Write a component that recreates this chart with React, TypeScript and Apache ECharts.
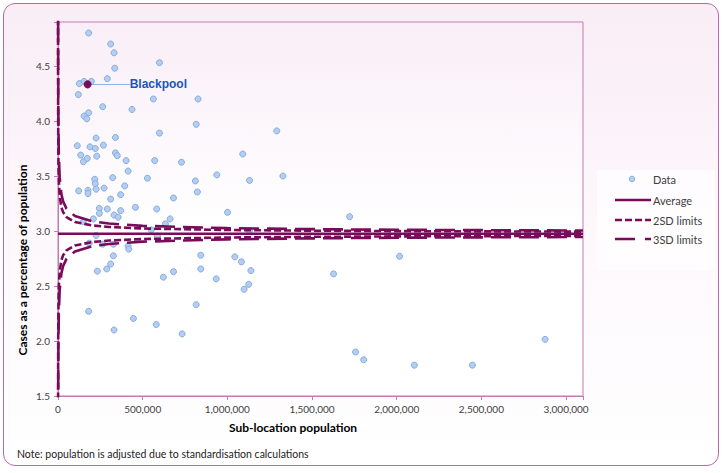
import React, { useEffect, useRef } from "react";
import * as echarts from "echarts";

// Sub-location population (x) and cases as % of population (y)
const popX = [
  181000, 311000, 331000, 335000, 599000, 126000, 154000, 197000, 291000, 120000,
  563000, 827000, 264000, 437000, 154000, 181000, 170000, 816000, 599000, 1292000,
  225000, 339000, 114000, 189000, 220000, 268000, 134000, 150000, 173000, 229000,
  339000, 350000, 402000, 571000, 729000, 1091000, 414000, 122000, 177000, 177000,
  217000, 220000, 225000, 272000, 323000, 394000, 370000, 311000, 528000, 811000,
  823000, 938000, 1131000, 1328000, 682000, 244000, 244000, 291000, 370000, 331000,
  355000, 457000, 583000, 662000, 634000, 1001000, 150000, 209000, 1722000, 843000,
  1044000, 1083000, 1139000, 843000, 934000, 1126000, 1099000, 1627000, 2017000, 2876000,
  1757000, 1805000, 2104000, 2447000, 225000, 264000, 327000, 414000, 418000, 327000,
  311000, 288000, 232000, 551000, 587000, 622000, 682000, 816000, 181000, 445000,
  331000, 580000, 733000, 185000, 1130000,
];
const pctY = [
  4.8, 4.7, 4.62, 4.48, 4.53, 4.34, 4.36, 4.36, 4.385, 4.24,
  4.2, 4.2, 4.13, 4.105, 4.045, 4.075, 4.02, 3.97, 3.89, 3.91,
  3.845, 3.85, 3.775, 3.765, 3.75, 3.78, 3.69, 3.63, 3.66, 3.68,
  3.71, 3.685, 3.64, 3.64, 3.625, 3.7, 3.545, 3.365, 3.37, 3.34,
  3.47, 3.43, 3.38, 3.39, 3.485, 3.41, 3.33, 3.29, 3.48, 3.455,
  3.355, 3.51, 3.46, 3.5, 3.3, 3.205, 3.16, 3.2, 3.185, 3.145,
  3.125, 3.215, 3.2, 3.11, 3.065, 3.17, 3.085, 3.11, 3.13, 2.78,
  2.765, 2.72, 2.64, 2.655, 2.565, 2.515, 2.47, 2.61, 2.77, 2.015,
  1.9, 1.83, 1.78, 1.78, 2.96, 2.88, 2.88, 2.865, 2.835, 2.775,
  2.7, 2.655, 2.635, 3.01, 2.955, 2.58, 2.63, 2.33, 2.27, 2.205,
  2.1, 2.15, 2.065, 2.89, 3.0,
];

const blackpoolName = "Blackpool";
const blackpoolX = 175000;
const blackpoolY = 4.333;

const averagePct = 2.975;
const averageX = [0, 3100000];

const limitPop = [
  300, 500, 1000, 2000, 3000, 5000, 10000, 20000, 30000, 50000,
  100000, 200000, 300000, 500000, 1000000, 1500000, 2000000, 3100000,
];
const upper2 = [4.937, 4.495, 4.05, 3.735, 3.595, 3.456, 3.315, 3.215, 3.171, 3.127, 3.082, 3.051, 3.037, 3.023, 3.009, 3.003, 2.999, 2.994];
const lower2 = [1.013, 1.455, 1.9, 2.215, 2.355, 2.494, 2.635, 2.735, 2.779, 2.823, 2.868, 2.899, 2.913, 2.927, 2.941, 2.947, 2.951, 2.956];
const upper3 = [5.918, 5.255, 4.587, 4.115, 3.906, 3.696, 3.485, 3.335, 3.269, 3.203, 3.136, 3.089, 3.068, 3.047, 3.026, 3.017, 3.011, 3.004];
const lower3 = [0.032, 0.695, 1.363, 1.835, 2.044, 2.254, 2.465, 2.615, 2.681, 2.747, 2.814, 2.861, 2.882, 2.903, 2.924, 2.933, 2.939, 2.946];

const xMin = 0;
const xMax = 3100000;
const xInterval = 500000;
const yMin = 1.5;
const yMax = 4.9;
const yInterval = 0.5;

const legendLabels = ["Data", "Average", "2SD limits", "3SD limits"];
const yTitle = "Cases as a percentage of population";
const xTitle = "Sub-location population";
const noteText = "Note: population is adjusted due to standardisation calculations";

const PLUM = "#7a0b5a";
const AXIS = "#c27ab4";
const FONT = "Lato, 'Open Sans', sans-serif";
const DOT_FILL = "#b4cdf1";
const DOT_STROKE = "#84ace0";

export default function App() {
  const ref = useRef<HTMLDivElement>(null);

  useEffect(() => {
    document.body.style.margin = "0";
    if (!ref.current) return;
    const chart = echarts.init(ref.current, null, { renderer: "svg" });

    const pairs = (xs: number[], ys: number[]) => xs.map((x, i) => [x, ys[i]]);
    const limitSeries = (name: string, ys: number[], dash: number[]) => ({
      name,
      type: "line",
      data: pairs(limitPop, ys),
      symbol: "none",
      clip: true,
      z: 4,
      lineStyle: { color: PLUM, width: 2.6, type: dash },
      silent: true,
    });

    chart.setOption({
      animation: false,
      backgroundColor: "transparent",
      textStyle: { fontFamily: FONT },
      grid: {
        left: 58,
        top: 22,
        width: 525,
        height: 374,
        show: true,
        borderColor: AXIS,
        borderWidth: 1,
        backgroundColor: {
          type: "linear",
          x: 0,
          y: 0,
          x2: 0,
          y2: 1,
          colorStops: [
            { offset: 0, color: "#f9eef7" },
            { offset: 0.55, color: "#ffffff" },
            { offset: 1, color: "#ffffff" },
          ],
        },
      },
      xAxis: {
        type: "value",
        min: xMin,
        max: xMax,
        interval: xInterval,
        splitLine: { show: false },
        axisLine: { show: true, lineStyle: { color: AXIS } },
        axisTick: { show: true, length: 4, lineStyle: { color: AXIS } },
        axisLabel: {
          color: "#404040",
          fontSize: 10,
          fontFamily: FONT,
          margin: 8,
          formatter: (v: number) =>
            v % xInterval === 0 ? v.toLocaleString("en-US") : "",
        },
      },
      yAxis: {
        type: "value",
        min: yMin,
        max: yMax,
        interval: yInterval,
        splitLine: { show: false },
        axisLine: { show: true, lineStyle: { color: AXIS } },
        axisTick: { show: true, length: 4, lineStyle: { color: AXIS } },
        axisLabel: {
          color: "#404040",
          fontSize: 10,
          fontFamily: FONT,
          margin: 8,
          formatter: (v: number) =>
            Math.abs(v / yInterval - Math.round(v / yInterval)) < 1e-6 ? v.toFixed(1) : "",
        },
      },
      series: [
        {
          name: legendLabels[0],
          type: "scatter",
          data: pairs(popX, pctY),
          symbol: "circle",
          symbolSize: 6,
          z: 2,
          itemStyle: { color: DOT_FILL, borderColor: DOT_STROKE, borderWidth: 1, opacity: 1 },
        },
        {
          name: blackpoolName,
          type: "scatter",
          data: [[blackpoolX, blackpoolY]],
          symbol: "circle",
          symbolSize: 8,
          z: 6,
          itemStyle: { color: PLUM, opacity: 1 },
          label: {
            show: true,
            position: "right",
            distance: 38,
            formatter: blackpoolName,
            color: "#1a56b8",
            fontWeight: "bold",
            fontSize: 12,
            fontFamily: "'Liberation Sans', Arial, sans-serif",
          },
          markLine: {
            silent: true,
            symbol: "none",
            label: { show: false },
            lineStyle: { color: "#8fb4e3", width: 1, type: "solid", opacity: 1 },
            data: [[{ coord: [blackpoolX, blackpoolY] }, { coord: [425000, blackpoolY] }]],
          },
        },
        {
          name: legendLabels[1],
          type: "line",
          data: pairs(averageX, [averagePct, averagePct]),
          symbol: "none",
          z: 5,
          lineStyle: { color: PLUM, width: 2.6, type: "solid" },
          silent: true,
        },
        limitSeries(legendLabels[2], upper2, [7, 3]),
        limitSeries(legendLabels[2], lower2, [7, 3]),
        limitSeries(legendLabels[3], upper3, [20, 8]),
        limitSeries(legendLabels[3], lower3, [20, 8]),
      ],
      graphic: [
        {
          type: "text",
          x: 22,
          y: 260,
          rotation: Math.PI / 2,
          style: {
            text: yTitle,
            fill: "#000",
            font: `bold 12px ${FONT}`,
            align: "center",
            verticalAlign: "middle",
          },
        },
        {
          type: "text",
          x: 293,
          y: 427,
          style: {
            text: xTitle,
            fill: "#000",
            font: `bold 12px ${FONT}`,
            align: "center",
            verticalAlign: "middle",
          },
        },
        {
          type: "text",
          x: 17,
          y: 454,
          style: {
            text: noteText,
            fill: "#222",
            font: `10.5px ${FONT}`,
            align: "left",
            verticalAlign: "middle",
          },
        },
        // legend
        {
          type: "rect",
          shape: { x: 597, y: 170, width: 118, height: 100 },
          style: { fill: "rgba(255,255,255,0.7)" },
        },
        {
          type: "circle",
          shape: { cx: 632, cy: 179, r: 2.8 },
          style: { fill: DOT_FILL, stroke: DOT_STROKE, lineWidth: 1 },
        },
        {
          type: "line",
          shape: { x1: 615, y1: 200, x2: 651, y2: 200 },
          style: { stroke: PLUM, lineWidth: 2.6 },
        },
        {
          type: "line",
          shape: { x1: 615, y1: 220, x2: 651, y2: 220 },
          style: { stroke: PLUM, lineWidth: 2.6, lineDash: [7, 3] },
        },
        {
          type: "line",
          shape: { x1: 615, y1: 239, x2: 651, y2: 239 },
          style: { stroke: PLUM, lineWidth: 2.6, lineDash: [20, 10] },
        },
        ...legendLabels.map((t, i) => ({
          type: "text",
          x: 653,
          y: [179, 200, 220, 239][i],
          style: {
            text: t,
            fill: "#404040",
            font: `11px ${FONT}`,
            align: "left",
            verticalAlign: "middle",
          },
        })),
      ],
    });

    return () => chart.dispose();
  }, []);

  return (
    <div style={{ position: "relative", width: 724, height: 473 }}>
      <div
        style={{
          position: "absolute",
          left: 3,
          top: 3,
          width: 716,
          height: 463,
          boxSizing: "border-box",
          border: "1.5px solid #b86aa8",
          borderRadius: 12,
          background: "linear-gradient(to bottom, #f9edf6 0%, #fdf8fc 50%, #ffffff 100%)",
        }}
      />
      <div ref={ref} style={{ position: "absolute", left: 0, top: 0, width: 724, height: 473 }} />
    </div>
  );
}
